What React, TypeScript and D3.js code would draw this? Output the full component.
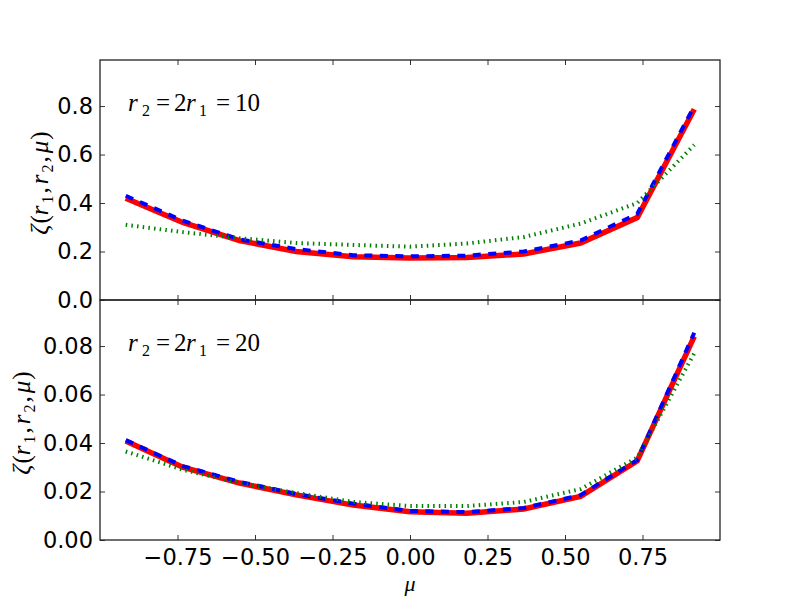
import React, { useEffect, useRef } from "react";
import * as d3 from "d3";

// bin centres in mu
const mu = [-0.917, -0.733, -0.55, -0.367, -0.183, 0, 0.183, 0.367, 0.55, 0.733, 0.917];

// r2 = 2 r1 = 10
const topRed = [0.42, 0.32, 0.245, 0.2, 0.178, 0.173, 0.175, 0.19, 0.235, 0.34, 0.787];
const topBlue = [0.43, 0.327, 0.25, 0.21, 0.185, 0.18, 0.183, 0.2, 0.245, 0.355, 0.8];
const topGreen = [0.31, 0.28, 0.255, 0.235, 0.227, 0.22, 0.233, 0.26, 0.315, 0.4, 0.64];

// r2 = 2 r1 = 20
const botRed = [0.0408, 0.03, 0.0235, 0.0186, 0.0144, 0.0117, 0.011, 0.0128, 0.018, 0.0326, 0.084];
const botBlue = [0.0412, 0.0305, 0.024, 0.019, 0.015, 0.012, 0.0115, 0.0132, 0.0185, 0.033, 0.0855];
const botGreen = [0.0365, 0.029, 0.0235, 0.0194, 0.0157, 0.014, 0.014, 0.0157, 0.021, 0.034, 0.077];

const xTicks = [-0.75, -0.5, -0.25, 0, 0.25, 0.5, 0.75];
const topYTicks = [0, 0.2, 0.4, 0.6, 0.8];
const botYTicks = [0, 0.02, 0.04, 0.06, 0.08];

interface Panel {
  top: number;
  ymax: number;
  yTicks: number[];
  fmt: string;
  label: string;
  labelX: number;
  red: number[];
  blue: number[];
  green: number[];
  showX: boolean;
}

const App: React.FC = () => {
  const svgRef = useRef<SVGSVGElement | null>(null);

  useEffect(() => {
    const width = 800;
    const height = 600;
    const margin = { left: 100, right: 80 };
    const panelH = 240;
    const fontSize = 22.5;
    const mathSize = 25;
    const sub = 16;
    const mathFont = "'Liberation Serif', serif";

    const svg = d3.select(svgRef.current).attr("width", width).attr("height", height);
    svg.selectAll("*").remove();

    svg.append("rect").attr("width", width).attr("height", height).attr("fill", "#fff");

    const xScale = d3.scaleLinear().domain([-1, 1]).range([margin.left, width - margin.right]);

    const panels: Panel[] = [
      { top: 60, ymax: 0.99, yTicks: topYTicks, fmt: ".1f", label: "10", labelX: 48, red: topRed, blue: topBlue, green: topGreen, showX: false },
      { top: 300, ymax: 0.099, yTicks: botYTicks, fmt: ".2f", label: "20", labelX: 30, red: botRed, blue: botBlue, green: botGreen, showX: true },
    ];

    panels.forEach((p, pi) => {
      const yScale = d3.scaleLinear().domain([0, p.ymax]).range([p.top + panelH, p.top]);
      const g = svg.append("g");

      const clipId = `clip${pi}`;
      svg
        .append("clipPath")
        .attr("id", clipId)
        .append("rect")
        .attr("x", margin.left)
        .attr("y", p.top)
        .attr("width", width - margin.left - margin.right)
        .attr("height", panelH);

      const line = d3
        .line<number>()
        .x((_, i) => xScale(mu[i]))
        .y((d) => yScale(d));

      const lines = g.append("g").attr("clip-path", `url(#${clipId})`);
      lines
        .append("path")
        .attr("d", line(p.red))
        .attr("fill", "none")
        .attr("stroke", "#ff0000")
        .attr("stroke-width", 5.5);
      lines
        .append("path")
        .attr("d", line(p.blue))
        .attr("fill", "none")
        .attr("stroke", "#0000ff")
        .attr("stroke-width", 4)
        .attr("stroke-dasharray", "8,7.5");
      lines
        .append("path")
        .attr("d", line(p.green))
        .attr("fill", "none")
        .attr("stroke", "#008000")
        .attr("stroke-width", 4)
        .attr("stroke-dasharray", "1.5,4.2");

      // axes: inward ticks on all four sides
      const tickLen = 5;
      const font = "'DejaVu Sans', sans-serif";

      const bottom = g
        .append("g")
        .attr("transform", `translate(0,${p.top + panelH})`)
        .call(
          d3
            .axisBottom(xScale)
            .tickValues(xTicks)
            .tickSizeInner(-tickLen)
            .tickSizeOuter(0)
            .tickPadding(9)
            .tickFormat((d) => (p.showX ? d3.format(".2f")(d as number).replace("-", "\u2212") : ""))
        );
      const top = g
        .append("g")
        .attr("transform", `translate(0,${p.top})`)
        .call(d3.axisTop(xScale).tickValues(xTicks).tickSizeInner(-tickLen).tickSizeOuter(0).tickFormat(() => ""));
      const left = g
        .append("g")
        .attr("transform", `translate(${margin.left},0)`)
        .call(
          d3
            .axisLeft(yScale)
            .tickValues(p.yTicks)
            .tickSizeInner(-tickLen)
            .tickSizeOuter(0)
            .tickPadding(7)
            .tickFormat((d) => d3.format(p.fmt)(d as number))
        );
      const right = g
        .append("g")
        .attr("transform", `translate(${width - margin.right},0)`)
        .call(d3.axisRight(yScale).tickValues(p.yTicks).tickSizeInner(-tickLen).tickSizeOuter(0).tickFormat(() => ""));

      [bottom, top, left, right].forEach((a) => {
        a.select(".domain").remove();
        a.selectAll(".tick line").attr("stroke", "#000").attr("stroke-width", 0.8);
        a.selectAll("text").attr("font-family", font).attr("font-size", fontSize).attr("fill", "#000");
      });

      // frame
      g.append("rect")
        .attr("x", margin.left)
        .attr("y", p.top)
        .attr("width", width - margin.left - margin.right)
        .attr("height", panelH)
        .attr("fill", "none")
        .attr("stroke", "#222")
        .attr("stroke-width", 1.3);

      // annotation r2 = 2r1 = N, pieces placed like the mathtext layout
      const base = p.top + 51;
      const ann = g
        .append("text")
        .attr("y", base)
        .attr("font-family", mathFont)
        .attr("font-size", mathSize)
        .attr("fill", "#000");
      ann.append("tspan").attr("x", 128).attr("font-style", "italic").text("r");
      ann.append("tspan").attr("x", 142).attr("y", base + 5).attr("font-size", sub).text("2");
      ann.append("tspan").attr("x", 156).attr("y", base).text("=");
      ann.append("tspan").attr("x", 174).text("2");
      ann.append("tspan").attr("x", 186).attr("font-style", "italic").text("r");
      ann.append("tspan").attr("x", 199).attr("y", base + 5).attr("font-size", sub).text("1");
      ann.append("tspan").attr("x", 216).attr("y", base).text("=");
      ann.append("tspan").attr("x", 235).text(p.label);

      // y label zeta(r1, r2, mu)
      const yl = g
        .append("text")
        .attr("transform", `translate(${p.labelX},${p.top + panelH / 2 + 3}) rotate(-90)`)
        .attr("text-anchor", "middle")
        .attr("font-family", mathFont)
        .attr("font-size", mathSize)
        .attr("fill", "#000");
      yl.append("tspan").attr("font-style", "italic").text("\u03b6");
      yl.append("tspan").attr("dx", 1).text("(");
      yl.append("tspan").attr("font-style", "italic").text("r");
      yl.append("tspan").attr("font-size", sub).attr("dy", 5).attr("dx", 2).text("1");
      yl.append("tspan").attr("dy", -5).attr("dx", 2).text(",");
      yl.append("tspan").attr("font-style", "italic").attr("dx", 3).text("r");
      yl.append("tspan").attr("font-size", sub).attr("dy", 5).attr("dx", 2).text("2");
      yl.append("tspan").attr("dy", -5).attr("dx", 2).text(",");
      yl.append("tspan").attr("font-style", "italic").attr("dx", 3).text("\u03bc");
      yl.append("tspan").attr("dx", 1).text(")");
    });

    // x label
    svg
      .append("text")
      .attr("x", xScale(0))
      .attr("y", 591)
      .attr("text-anchor", "middle")
      .attr("font-family", mathFont)
      .attr("font-style", "italic")
      .attr("font-size", 22)
      .text("\u03bc");
  }, []);

  return (
    <div style={{ position: "absolute", left: 0, top: 0 }}>
      <svg ref={svgRef}></svg>
    </div>
  );
};

export default App;
